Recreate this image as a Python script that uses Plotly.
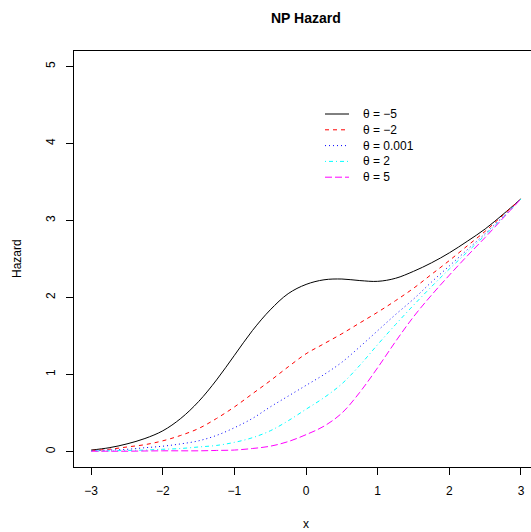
import plotly.graph_objects as go

# ---- data ----
x_vals = [-3, -2.75, -2.5, -2.25, -2, -1.75, -1.5, -1.25, -1, -0.75, -0.5, -0.25,
          0, 0.25, 0.5, 0.75, 1, 1.25, 1.5, 1.75, 2, 2.25, 2.5, 2.75, 3]
h_m5 = [0.02, 0.05, 0.10, 0.17, 0.27, 0.43, 0.65, 0.93, 1.25, 1.57, 1.84, 2.05,
        2.17, 2.23, 2.24, 2.22, 2.21, 2.25, 2.34, 2.45, 2.58, 2.73, 2.89, 3.08, 3.28]
h_m2 = [0.015, 0.03, 0.06, 0.09, 0.14, 0.21, 0.30, 0.43, 0.58, 0.75, 0.92, 1.10,
        1.27, 1.40, 1.53, 1.67, 1.81, 1.96, 2.12, 2.30, 2.48, 2.67, 2.86, 3.07, 3.28]
h_0 = [0.01, 0.02, 0.03, 0.05, 0.07, 0.10, 0.14, 0.21, 0.31, 0.43, 0.58, 0.72,
       0.86, 1.00, 1.16, 1.36, 1.57, 1.78, 1.98, 2.20, 2.41, 2.62, 2.83, 3.05, 3.28]
h_p2 = [0.01, 0.01, 0.015, 0.02, 0.03, 0.04, 0.06, 0.08, 0.12, 0.18, 0.27, 0.40,
        0.55, 0.70, 0.88, 1.12, 1.39, 1.65, 1.90, 2.14, 2.37, 2.59, 2.81, 3.04, 3.28]
h_p5 = [0.005, 0.005, 0.005, 0.008, 0.01, 0.01, 0.01, 0.015, 0.02, 0.04, 0.07, 0.13,
        0.22, 0.33, 0.50, 0.77, 1.09, 1.43, 1.75, 2.03, 2.29, 2.54, 2.78, 3.03, 3.28]

series_names = ["θ = −5", "θ = −2", "θ = 0.001", "θ = 2", "θ = 5"]
series_vals = [h_m5, h_m2, h_0, h_p2, h_p5]
colors = ["#000000", "#FF0000", "#0000FF", "#00FFFF", "#FF00FF"]
dashes = ["solid", "4px,4px", "1px,3px", "1px,3px,4px,3px", "7px,3px"]

x_ticks = [-3, -2, -1, 0, 1, 2, 3]
x_tick_text = ["−3", "−2", "−1", "0", "1", "2", "3"]
y_ticks = [0, 1, 2, 3, 4, 5]

W, H = 531, 532
ML, MR, MT, MB = 74, 0, 51, 65
FONT = "Liberation Sans, Arial, sans-serif"


def px_x(p):
    return (p - ML) / (W - ML - MR)


def px_y(p):
    return 1 - (p - MT) / (H - MT - MB)


fig = go.Figure()
for name, vals, c, d in zip(series_names, series_vals, colors, dashes):
    fig.add_trace(go.Scatter(x=x_vals, y=vals, mode="lines", name=name, showlegend=False,
                             line=dict(color=c, width=1, dash=d, shape="spline", smoothing=1.0)))

# legend (R-style, no box)
shapes = []
annotations = []
leg_top, leg_step = 114, 15.8
for i, (name, c, d) in enumerate(zip(series_names, colors, dashes)):
    yy = px_y(leg_top + i * leg_step)
    shapes.append(dict(type="line", xref="paper", yref="paper",
                       x0=px_x(325), x1=px_x(349), y0=yy, y1=yy,
                       line=dict(color=c, width=1, dash=d)))
    annotations.append(dict(text=name, x=px_x(361), y=yy, xref="paper", yref="paper",
                            showarrow=False, xanchor="left", yanchor="middle",
                            font=dict(family=FONT, size=12, color="black")))

annotations += [
    dict(text="<b>NP Hazard</b>", x=px_x(306), y=px_y(18), xref="paper", yref="paper",
         showarrow=False, font=dict(family=FONT, size=14), xanchor="center", yanchor="middle"),
    dict(text="x", x=px_x(306), y=px_y(524), xref="paper", yref="paper",
         showarrow=False, font=dict(family=FONT, size=12), xanchor="center", yanchor="middle"),
    dict(text="Hazard", x=px_x(17), y=px_y(259), xref="paper", yref="paper",
         showarrow=False, textangle=-90, font=dict(family=FONT, size=12),
         xanchor="center", yanchor="middle"),
]

fig.update_layout(
    width=W, height=H,
    margin=dict(l=ML, r=MR, t=MT, b=MB),
    paper_bgcolor="white", plot_bgcolor="white",
    font=dict(family=FONT, size=12, color="black"),
    showlegend=False,
    xaxis=dict(range=[-3.24, 3.14], tickvals=x_ticks, ticktext=x_tick_text,
               showgrid=False, zeroline=False, showline=True, linecolor="black",
               linewidth=1, mirror=True, ticks="outside", ticklen=7,
               tickcolor="black", ticklabelstandoff=6, tickfont=dict(family=FONT, size=12)),
    yaxis=dict(range=[-0.2, 5.2], tickvals=y_ticks,
               showgrid=False, zeroline=False, showline=True, linecolor="black",
               linewidth=1, mirror=False, ticks="outside", ticklen=7,
               tickcolor="black", tickangle=-90, ticklabelstandoff=6,
               tickfont=dict(family=FONT, size=12)),
    shapes=shapes,
    annotations=annotations,
)

fig.write_html("out.html")
